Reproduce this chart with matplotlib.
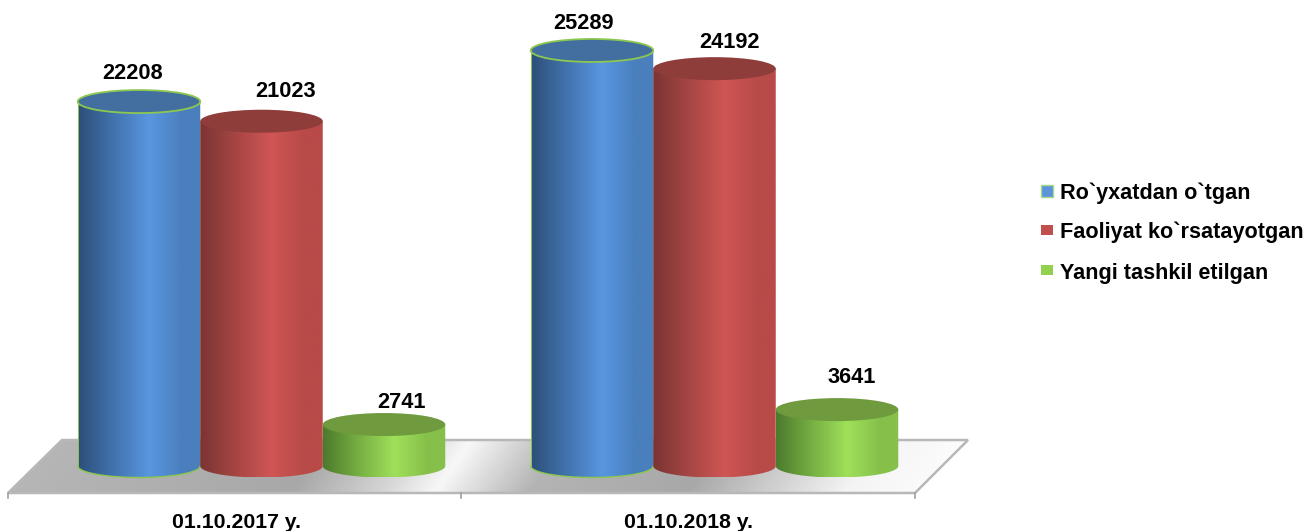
#!/usr/bin/env python3
"""Pseudo-3D cylinder chart: registered / active / newly formed, two dates."""
import matplotlib
matplotlib.use("Agg")
import matplotlib.pyplot as plt
import numpy as np
from matplotlib.colors import LinearSegmentedColormap
from matplotlib.patches import Ellipse, PathPatch, Polygon, Rectangle
from matplotlib.path import Path

plt.rcParams["font.family"] = ["Liberation Sans", "DejaVu Sans"]

DATES = ["01.10.2017 y.", "01.10.2018 y."]
SERIES = ["Ro`yxatdan o`tgan", "Faoliyat ko`rsatayotgan", "Yangi tashkil etilgan"]
REGISTERED = [22208, 25289]
ACTIVE = [21023, 24192]
NEW = [2741, 3641]
VALUES = [REGISTERED, ACTIVE, NEW]

# (dark edge, highlight, right edge, top cap, legend swatch)
COLORS = [
    ("#2c4f78", "#5896e0", "#4a7fbd", "#426f9f", "#5b94dc"),
    ("#7a3432", "#cf5654", "#b84a48", "#8f3d3b", "#c0504d"),
    ("#4c7a2c", "#9fe05a", "#86c04a", "#6f9a3e", "#92d050"),
]
# value label nudges in px, the labels do not sit centred on the bars
LABEL_DX = [[-6, -8], [24, 15], [17, 15]]
LABEL_DY = [[18, 16], [19, 16], [12, 22]]

W, H = 1308, 531
PX_X = 453.0                # pixels per category
PX_Y = 0.01659              # pixels per value unit
BAR_W = 122.5 / PX_X
BAR_STEP = 122.5 / PX_X
CAP_H = 23.0                # ellipse height in px

fig = plt.figure(figsize=(W / 100, H / 100), dpi=100)
ax = fig.add_axes([0, 0, 1, 1])
ax.set_xlim(-262 / PX_X, (W - 262) / PX_X)
ax.set_ylim(-(H - 470) / PX_Y, 470 / PX_Y)
ax.axis("off")
xlim, ylim = ax.get_xlim(), ax.get_ylim()


def px(x, y):
    return (x - 262) / PX_X, (470 - y) / PX_Y


# floor, the sheen runs diagonally so build it on a pixel grid
floor_pts = [px(8, 493), px(62, 440), px(968, 440), px(915, 493)]
floor_cmap = LinearSegmentedColormap.from_list("floor", [
    (0.0, "#b8b8b8"), (0.32, "#a8a8a8"), (0.41, "#d4d4d4"), (0.465, "#f8f8f8"),
    (0.56, "#b4b4b4"), (0.72, "#a8a8a8"), (0.88, "#f4f4f4"), (1.0, "#ffffff")])
gx, gy = np.meshgrid(np.linspace(8, 968, 480), np.linspace(440, 493, 54))
im = ax.imshow((gx + 0.7 * (gy - 440) - 8) / 995, cmap=floor_cmap, vmin=0, vmax=1,
               aspect="auto", zorder=1, origin="upper",
               extent=[px(8, 0)[0], px(968, 0)[0], px(0, 493)[1], px(0, 440)[1]])
im.set_clip_path(Polygon(floor_pts, closed=True, transform=ax.transData))
ax.add_patch(Polygon(floor_pts, closed=True, fc="none", ec="#b8b8b8", lw=1.8, zorder=3))
for tx in [8, 461, 915]:
    ax.plot(*zip(px(tx, 493), px(tx, 498)), color="#a0a0a0", lw=1.2, zorder=3)

# cylinders
cap_h = CAP_H / PX_Y
base_val = 4 / PX_Y   # bottom ellipse sits a bit above the value baseline
for s, vals in enumerate(VALUES):
    dark, light, right, cap, _ = COLORS[s]
    mid = "#" + "".join(
        f"{(int(dark[i:i+2], 16) + int(light[i:i+2], 16)) // 2:02x}" for i in (1, 3, 5))
    cmap = LinearSegmentedColormap.from_list(
        f"c{s}", [(0, dark), (0.28, mid), (0.58, light), (0.85, right), (1, right)])
    for i, v in enumerate(vals):
        xc = i + (s - 1) * BAR_STEP - 0.5 / PX_X
        x0, x1 = xc - BAR_W / 2, xc + BAR_W / 2
        t = np.linspace(0, np.pi, 40)
        bx = xc - np.cos(t) * BAR_W / 2
        by = base_val - np.sin(t) * cap_h / 2
        verts = list(zip(bx, by)) + [(x1, v), (x0, v), (x0, base_val)]
        codes = [Path.MOVETO] + [Path.LINETO] * (len(verts) - 2) + [Path.CLOSEPOLY]
        body = PathPatch(Path(verts, codes), fc="none", ec="none", transform=ax.transData)
        ax.add_patch(body)
        z = 4 + s * 0.1 + i
        img = ax.imshow(np.linspace(0, 1, 256)[None, :], cmap=cmap, aspect="auto", zorder=z,
                        extent=[x0, x1, by.min(), v])
        img.set_clip_path(body)
        edge = "#8cc850" if s == 0 else "none"
        ax.add_patch(Ellipse((xc, v), BAR_W, cap_h, fc=cap, ec=edge, lw=1.3, zorder=z + 0.01))
        if s == 0:
            ax.plot(bx, by, color="#8cc850", lw=1.0, zorder=z + 0.01)
            ax.plot([x0, x0], [base_val, v], color="#8cc850", lw=0.7, zorder=z + 0.01)
        ax.annotate(str(v), (xc, v), xytext=(LABEL_DX[s][i], LABEL_DY[s][i]),
                    textcoords="offset pixels", ha="center", va="bottom", fontsize=15.7,
                    fontweight="bold", color="black", zorder=20)
ax.set_xlim(xlim)
ax.set_ylim(ylim)

# category labels
for i, d in enumerate(DATES):
    ax.text(i - 26 / PX_X, px(0, 522)[1], d, ha="center", va="center", fontsize=15.3,
            fontweight="bold", color="black")

# legend
for s, (name, ly, sy, sh) in enumerate(zip(SERIES, [193, 232, 273], [191, 230, 270], [12, 10, 10])):
    x0, y0 = px(1041, sy + sh / 2)
    x1, y1 = px(1053, sy - sh / 2)
    ax.add_patch(Rectangle((x0, y0), x1 - x0, y1 - y0, fc=COLORS[s][4],
                           ec="#a8d88a" if s == 0 else "none", lw=1.0, zorder=5))
    ax.text(px(1060, 0)[0], px(0, ly)[1], name, ha="left", va="center",
            fontsize=15.6, fontweight="bold", color="black")

fig.savefig("out.png", dpi=100)
